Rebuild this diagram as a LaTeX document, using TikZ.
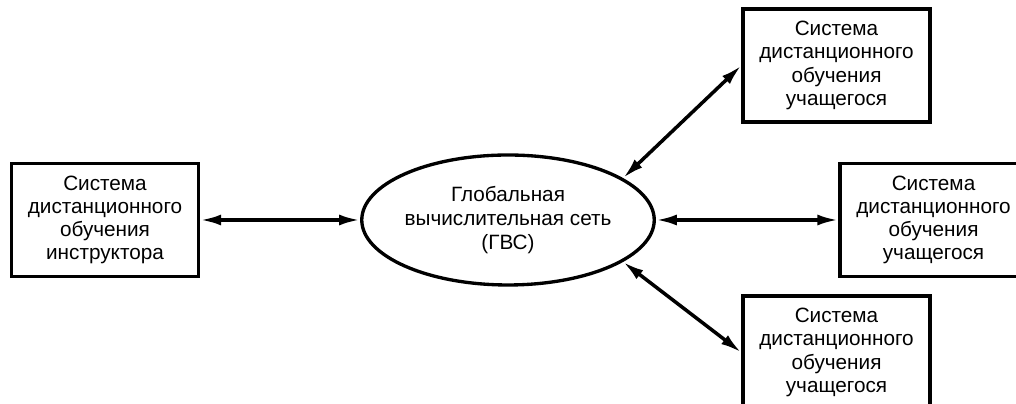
\documentclass[tikz,border=0pt]{standalone}
\usepackage{fontspec}
\setmainfont{Liberation Sans}
\usetikzlibrary{arrows.meta,shapes.geometric}

\tikzset{
	sysbox/.style={draw, line width=1.9pt, minimum width=3.74cm, minimum height=2.26cm, inner sep=0pt, align=center, font=\fontsize{11.8}{13.2}\selectfont},
	netnode/.style={draw, ellipse, line width=1.9pt, minimum width=5.78cm, minimum height=2.6cm, inner sep=0pt, align=center, font=\fontsize{11.8}{13.6}\selectfont},
	link/.style={line width=2pt, {Latex[length=4.2mm,width=2.2mm]}-{Latex[length=4.2mm,width=2.2mm]}}
}

\begin{document}
\begin{tikzpicture}[x=0.02cm, y=0.02cm]
			%%%%% FRAME %%%%%
			\useasboundingbox (0, 0) rectangle (1016, 404);
			\clip (0, 0) rectangle (1016, 404);
			
			%%%%% NODES %%%%%
			\node[sysbox] (instr) at (105, 184) {Система\\дистанционного\\обучения\\инструктора};
			\node[netnode] (gvs) at (508, 184) {Глобальная\\вычислительная сеть\\(ГВС)};
			
			\node[sysbox] (stTop) at (836.5, 338.5) {Система\\дистанционного\\обучения\\учащегося};
			\node[sysbox] (stMid) at (933.5, 184) {Система\\дистанционного\\обучения\\учащегося};
			\node[sysbox] (stBot) at (836.5, 51.5) {Система\\дистанционного\\обучения\\учащегося};
			
			%%%%% LINKS %%%%%
			\draw[link] (instr) -- (gvs);
			\draw[link] (gvs) -- (stMid);
			\draw[link] (gvs.20) -- (stTop.west);
			\draw[link] (gvs.-20) -- (stBot.west);
\end{tikzpicture}
\end{document}
